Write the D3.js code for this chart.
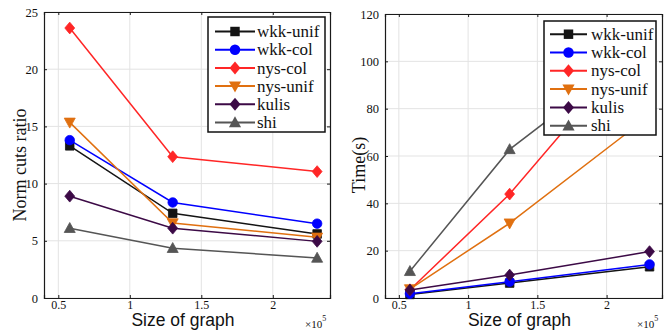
<!DOCTYPE html>
<html>
<head>
<meta charset="utf-8">
<script src="https://cdn.jsdelivr.net/npm/d3@7"></script>
<style>
  body { margin: 0; background: #fff; }
  svg { display: block; }
</style>
</head>
<body>
<svg id="chart" width="671" height="333"></svg>
<script>
// graph sizes (x 1e5)
var xVals = [0.58, 1.3, 2.31];
var seriesNames = ["wkk-unif", "wkk-col", "nys-col", "nys-unif", "kulis", "shi"];

// norm cuts ratio
var ratioWkkUnif = [13.3, 7.4, 5.6];
var ratioWkkCol  = [13.8, 8.35, 6.5];
var ratioNysCol  = [23.6, 12.35, 11.05];
var ratioNysUnif = [15.35, 6.55, 5.3];
var ratioKulis   = [8.9, 6.1, 4.95];
var ratioShi     = [6.1, 4.35, 3.5];

// time (s)
var timeWkkUnif = [1.5, 6.3, 13.2];
var timeWkkCol  = [1.8, 6.9, 14.2];
var timeNysCol  = [3.5, 43.9, 113];
var timeNysUnif = [3.8, 31.6, 77];
var timeKulis   = [3.4, 9.7, 19.6];
var timeShi     = [11.3, 62.8, 108];

var xTicks = [0.5, 1, 1.5, 2];
var ratioTicks = [0, 5, 10, 15, 20, 25];
var timeTicks = [0, 20, 40, 60, 80, 100, 120];

var colors = ["#141414", "#0000ff", "#ff2626", "#e07010", "#3c0a46", "#555555"];
var markers = ["square", "circle", "diamond", "tridown", "diamond", "triup"];

var serif = "'Liberation Serif', 'Times New Roman', serif";
var sans = "'Liberation Sans', Arial, sans-serif";

function markerPath(type, s) {
    var p = d3.path();
    if (type === "square") {
        p.rect(-s * 0.45, -s * 0.45, s * 0.9, s * 0.9);
    } else if (type === "circle") {
        p.arc(0, 0, s * 0.5, 0, 2 * Math.PI);
    } else if (type === "diamond") {
        p.moveTo(0, -s * 0.62); p.lineTo(s * 0.52, 0); p.lineTo(0, s * 0.62); p.lineTo(-s * 0.52, 0); p.closePath();
    } else if (type === "tridown") {
        p.moveTo(-s * 0.58, -s * 0.45); p.lineTo(s * 0.58, -s * 0.45); p.lineTo(0, s * 0.6); p.closePath();
    } else {
        p.moveTo(-s * 0.58, s * 0.45); p.lineTo(s * 0.58, s * 0.45); p.lineTo(0, -s * 0.6); p.closePath();
    }
    return p.toString();
}

var svg = d3.select("#chart");

function drawPanel(cfg) {
    var x = d3.scaleLinear().domain([0.4, 2.4]).range([cfg.left, cfg.right]);
    var y = d3.scaleLinear().domain([0, cfg.yMax]).range([cfg.bottom, cfg.top]);
    var g = svg.append("g");

    // grid
    g.append("g").selectAll("line").data(xTicks).enter().append("line")
        .attr("x1", function(d) { return x(d); }).attr("x2", function(d) { return x(d); })
        .attr("y1", cfg.top).attr("y2", cfg.bottom)
        .attr("stroke", "#e3e3e3").attr("stroke-width", 1);
    g.append("g").selectAll("line").data(cfg.yTicks).enter().append("line")
        .attr("y1", function(d) { return y(d); }).attr("y2", function(d) { return y(d); })
        .attr("x1", cfg.left).attr("x2", cfg.right)
        .attr("stroke", "#e3e3e3").attr("stroke-width", 1);

    // axes (ticks inside, box)
    var ax = g.append("g").attr("transform", "translate(0," + cfg.bottom + ")")
        .call(d3.axisBottom(x).tickValues(xTicks).tickSize(-3).tickPadding(5).tickFormat(d3.format("")));
    var ay = g.append("g").attr("transform", "translate(" + cfg.left + ",0)")
        .call(d3.axisLeft(y).tickValues(cfg.yTicks).tickSize(-3).tickPadding(6));
    var at = g.append("g").attr("transform", "translate(0," + cfg.top + ")")
        .call(d3.axisTop(x).tickValues(xTicks).tickSize(-3).tickFormat(""));
    var ar = g.append("g").attr("transform", "translate(" + cfg.right + ",0)")
        .call(d3.axisRight(y).tickValues(cfg.yTicks).tickSize(-3).tickFormat(""));
    [ax, ay, at, ar].forEach(function(a) {
        a.select(".domain").attr("stroke", "#1a1a1a").attr("stroke-width", 1.2);
        a.selectAll(".tick line").attr("stroke", "#1a1a1a");
        a.selectAll("text").attr("font-family", serif).attr("font-size", 12.5).attr("fill", "#111");
    });
    ax.selectAll("text").attr("font-size", 12).attr("dy", "0.5em");

    // series
    cfg.series.forEach(function(vals, i) {
        var pts = vals.map(function(v, j) { return [xVals[j], v]; });
        g.append("path").datum(pts)
            .attr("fill", "none").attr("stroke", colors[i]).attr("stroke-width", 1.5)
            .attr("d", d3.line().x(function(d) { return x(d[0]); }).y(function(d) { return y(d[1]); }));
        g.append("g").selectAll("path").data(pts).enter().append("path")
            .attr("transform", function(d) { return "translate(" + x(d[0]) + "," + y(d[1]) + ")"; })
            .attr("d", markerPath(markers[i], 9.5))
            .attr("fill", colors[i]).attr("stroke", colors[i]).attr("stroke-width", 0.8);
    });

    // legend
    var lg = cfg.legend;
    g.append("rect").attr("x", lg.x).attr("y", lg.y).attr("width", lg.w).attr("height", lg.h)
        .attr("fill", "#fff").attr("stroke", "#111").attr("stroke-width", 1.5);
    seriesNames.forEach(function(name, i) {
        var ry = lg.y + lg.first + i * lg.step;
        g.append("line").attr("x1", lg.x + lg.l0).attr("x2", lg.x + lg.l1)
            .attr("y1", ry).attr("y2", ry).attr("stroke", colors[i]).attr("stroke-width", 2);
        g.append("path").attr("transform", "translate(" + (lg.x + (lg.l0 + lg.l1) / 2) + "," + ry + ")")
            .attr("d", markerPath(markers[i], 10.5)).attr("fill", colors[i]);
        g.append("text").attr("x", lg.x + lg.tx).attr("y", ry).attr("dy", "0.33em")
            .attr("font-family", serif).attr("font-size", 17).attr("fill", "#111").text(name);
    });

    // axis titles
    g.append("text").attr("x", (cfg.left + cfg.right) / 2 - 4).attr("y", 326)
        .attr("text-anchor", "middle").attr("font-family", sans).attr("font-size", 17.5).attr("fill", "#111")
        .text("Size of graph");
    var ex = g.append("text").attr("x", cfg.right - 25).attr("y", 328)
        .attr("font-family", serif).attr("font-size", 11).attr("fill", "#111");
    ex.append("tspan").text("\u00d710");
    ex.append("tspan").attr("dy", -7).attr("font-size", 8).text("5");
    g.append("text").attr("transform", "translate(" + cfg.ylabX + ",165) rotate(-90)")
        .attr("text-anchor", "middle").attr("font-family", serif).attr("font-size", 18).attr("fill", "#111")
        .text(cfg.ylabel);
}

drawPanel({
    left: 44, right: 330, top: 12, bottom: 298, yMax: 25, yTicks: ratioTicks,
    series: [ratioWkkUnif, ratioWkkCol, ratioNysCol, ratioNysUnif, ratioKulis, ratioShi],
    legend: { x: 208, y: 17, w: 117, h: 115, first: 14.5, step: 18.2, l0: 7, l1: 47, tx: 49 },
    ylabel: "Norm cuts ratio", ylabX: 26
});

drawPanel({
    left: 385, right: 662, top: 14, bottom: 298, yMax: 120, yTicks: timeTicks,
    series: [timeWkkUnif, timeWkkCol, timeNysCol, timeNysUnif, timeKulis, timeShi],
    legend: { x: 544, y: 21, w: 112, h: 114, first: 13.2, step: 18.3, l0: 6, l1: 43, tx: 47 },
    ylabel: "Time(s)", ylabX: 365
});
</script>
</body>
</html>
